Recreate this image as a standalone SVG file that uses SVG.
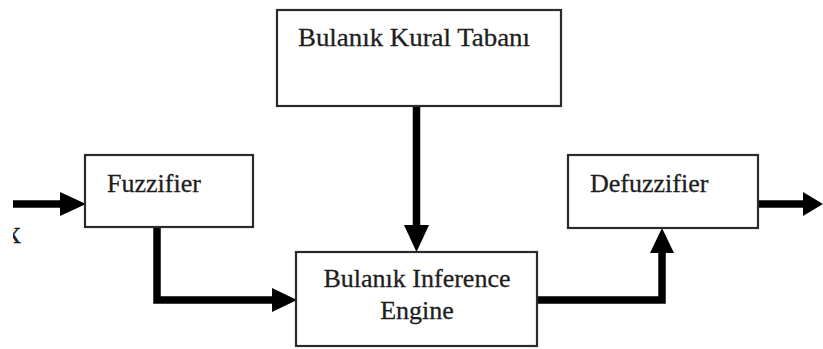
<svg xmlns="http://www.w3.org/2000/svg" width="823" height="349" viewBox="0 0 823 349">
  <style>
    .box { fill: #ffffff; stroke: #2a2a2a; stroke-width: 2.2; }
    .lbl { font-family: "Liberation Serif", "Times New Roman", serif; font-size: 26px; fill: #1e1e1e; stroke: #1e1e1e; stroke-width: 0.3; }
    .wire { fill: none; stroke: #000000; stroke-width: 7.5; stroke-linejoin: miter; }
    .head { fill: #000000; }
  </style>
  <defs>
    <clipPath id="edge">
      <rect x="13" y="0" width="810" height="349"/>
    </clipPath>
  </defs>
  <rect width="823" height="349" fill="#ffffff"/>

  <!-- connectors -->
  <g id="connectors">
    <!-- input x -> Fuzzifier -->
    <path class="wire" d="M13 204 H64"/>
    <polygon class="head" points="60,192 86,204 60,216"/>
    <!-- Fuzzifier -> Inference Engine -->
    <path class="wire" d="M157 227 V300 H276"/>
    <polygon class="head" points="272,288 297,300 272,312"/>
    <!-- Rule base -> Inference Engine -->
    <path class="wire" d="M416.5 106 V229"/>
    <polygon class="head" points="404,225 416.5,252 429,225"/>
    <!-- Inference Engine -> Defuzzifier -->
    <path class="wire" d="M537 300 H662 V250"/>
    <polygon class="head" points="650,253 662,228 674,253"/>
    <!-- Defuzzifier -> output -->
    <path class="wire" d="M758 204 H808"/>
    <polygon class="head" points="803,192 823,204 803,216"/>
  </g>

  <!-- input label, cut by the left edge -->
  <g id="input" clip-path="url(#edge)">
    <text class="lbl" x="5" y="243" style="font-size:32px">x</text>
  </g>

  <g id="rulebase">
    <rect class="box" x="277" y="10" width="284" height="96"/>
    <text class="lbl" x="298" y="46" textLength="232" lengthAdjust="spacingAndGlyphs">Bulanık Kural Tabanı</text>
  </g>

  <g id="fuzzifier">
    <rect class="box" x="85" y="155" width="168" height="72"/>
    <text class="lbl" x="107" y="192">Fuzzifier</text>
  </g>

  <g id="defuzzifier">
    <rect class="box" x="568" y="155" width="190" height="73"/>
    <text class="lbl" x="590" y="192">Defuzzifier</text>
  </g>

  <g id="inference">
    <rect class="box" x="296" y="252" width="241" height="94"/>
    <text class="lbl" x="417" y="287" text-anchor="middle">Bulanık Inference</text>
    <text class="lbl" x="417" y="319" text-anchor="middle">Engine</text>
  </g>
</svg>
